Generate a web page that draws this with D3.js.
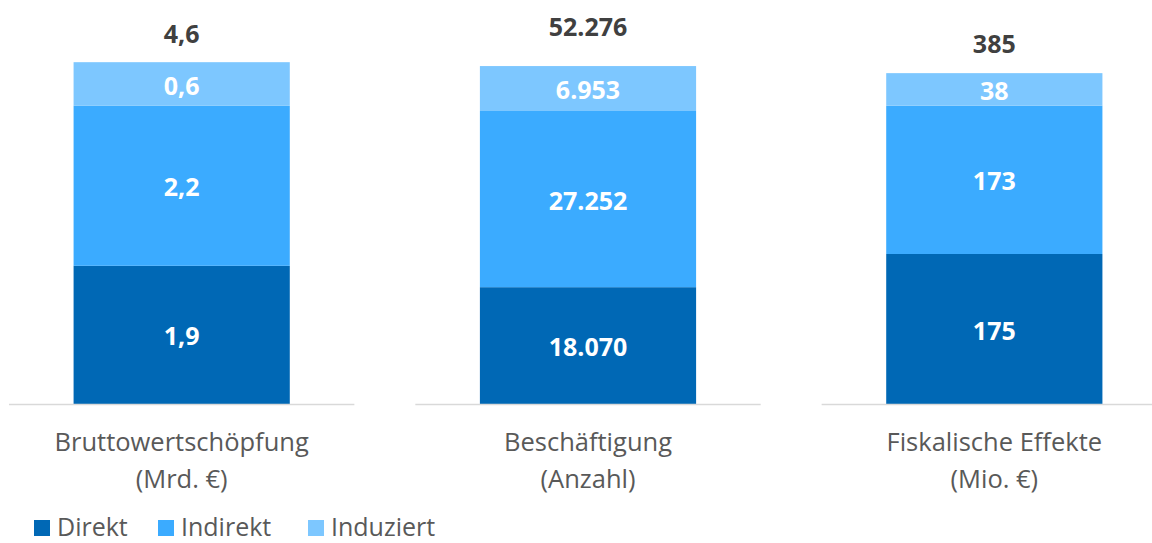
<!DOCTYPE html>
<html>
<head>
<meta charset="utf-8">
<script src="https://cdn.jsdelivr.net/npm/d3@7"></script>
<style>
  body { margin: 0; background: #fff; }
  svg { font-family: "Open Sans", sans-serif; }
</style>
</head>
<body>
<script>
// chart data
const categories = ["Bruttowertschöpfung", "Beschäftigung", "Fiskalische Effekte"];
const units = ["(Mrd. €)", "(Anzahl)", "(Mio. €)"];
const direkt = [1.9, 18070, 175];
const indirekt = [2.2, 27252, 173];
const induziert = [0.6, 6953, 38];
const totals = [4.6, 52276, 385];
const decimals = [1, 0, 0];
const axisMax = [5.28, 59400, 448];
const seriesNames = ["Direkt", "Indirekt", "Induziert"];

const w = 1152;
const h = 543;
const baseline = 404;
const plotTop = 20;
const colors = ["#0068b5", "#3babff", "#7dc7ff"];
const totalGap = [19, 30, 20];

const de = d3.formatLocale({ decimal: ",", thousands: ".", grouping: [3], currency: ["", "€"] });
const fmt = i => de.format(",." + decimals[i] + "f");

const svg = d3.select("body").append("svg")
    .attr("width", w)
    .attr("height", h);

// one panel per category
const xPanel = d3.scaleBand()
    .domain(categories)
    .range([9, 1167])
    .paddingInner(0.15);

const series = [direkt, indirekt, induziert];

categories.forEach((cat, i) => {
    const x0 = xPanel(cat);
    const bw = xPanel.bandwidth();
    const inner = d3.scaleBand().domain([cat]).range([x0, x0 + bw]).padding(0.23);
    const y = d3.scaleLinear().domain([0, axisMax[i]]).range([baseline, plotTop]);
    const g = svg.append("g");

    const stackData = series.map(s => s[i]);
    let acc = 0;
    const segs = stackData.map((v, k) => {
        const s = { y0: acc, y1: acc + v, v, k };
        acc += v;
        return s;
    });

    g.selectAll("rect")
        .data(segs)
        .enter()
        .append("rect")
        .attr("x", inner(cat))
        .attr("width", inner.bandwidth())
        .attr("y", d => y(d.y1))
        .attr("height", d => y(d.y0) - y(d.y1))
        .attr("fill", d => colors[d.k]);

    g.selectAll("text.seg")
        .data(segs)
        .enter()
        .append("text")
        .attr("class", "seg")
        .attr("x", inner(cat) + inner.bandwidth() / 2)
        .attr("y", d => (y(d.y0) + y(d.y1)) / 2)
        .attr("dy", "0.42em")
        .attr("text-anchor", "middle")
        .attr("fill", "#fff")
        .attr("font-weight", "bold")
        .attr("font-size", 25)
        .text(d => fmt(i)(d.v));

    // total above the bar
    g.append("text")
        .attr("x", inner(cat) + inner.bandwidth() / 2)
        .attr("y", y(acc) - totalGap[i])
        .attr("text-anchor", "middle")
        .attr("fill", "#404040")
        .attr("font-weight", "bold")
        .attr("font-size", 25)
        .text(fmt(i)(totals[i]));

    // base line
    g.append("line")
        .attr("x1", x0)
        .attr("x2", x0 + bw)
        .attr("y1", baseline + 0.5)
        .attr("y2", baseline + 0.5)
        .attr("stroke", "#d9d9d9")
        .attr("stroke-width", 1.5);

    // category label
    const lab = g.append("text")
        .attr("x", x0 + bw / 2)
        .attr("text-anchor", "middle")
        .attr("fill", "#595959")
        .attr("font-size", 25.5);
    lab.append("tspan").attr("x", x0 + bw / 2).attr("y", 451).text(cat);
    lab.append("tspan").attr("x", x0 + bw / 2).attr("y", 488).text(units[i]);
});

// legend
const legendX = [34, 158, 308];
const legend = svg.append("g");
seriesNames.forEach((name, k) => {
    legend.append("rect")
        .attr("x", legendX[k])
        .attr("y", 520)
        .attr("width", 16)
        .attr("height", 16)
        .attr("fill", colors[k]);
    legend.append("text")
        .attr("x", legendX[k] + 23)
        .attr("y", 536)
        .attr("fill", "#595959")
        .attr("font-size", 25)
        .text(name);
});
</script>
</body>
</html>
